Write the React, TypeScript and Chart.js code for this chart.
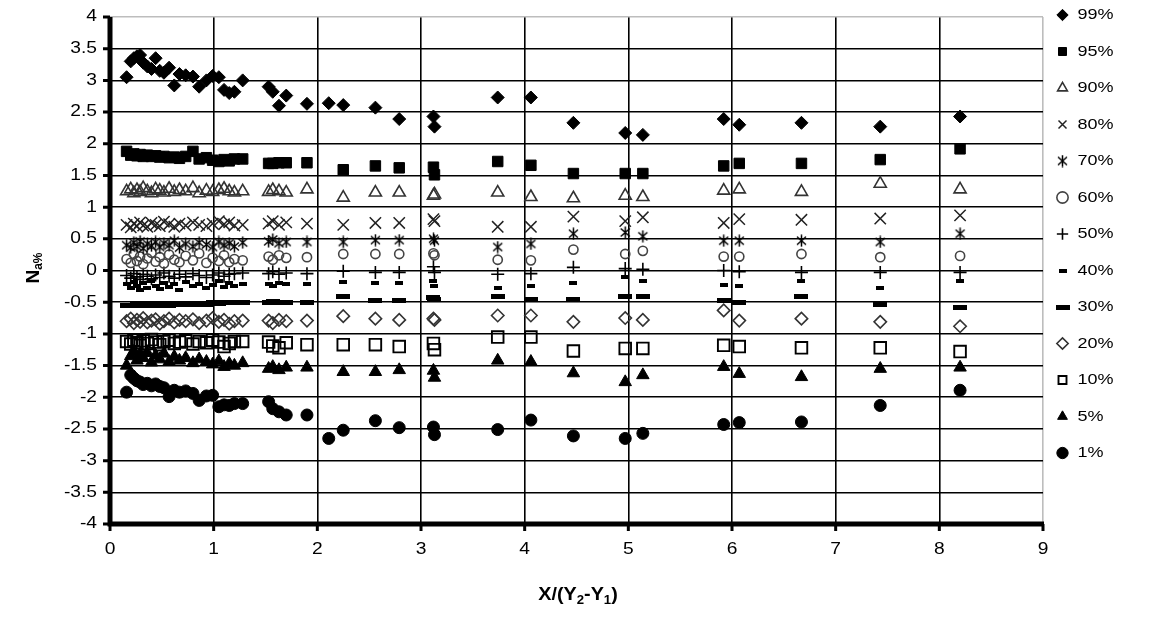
import React, { useEffect, useRef } from "react";
import { Chart, registerables } from "chart.js";

Chart.register(...registerables);

const W = 1160;
const H = 623;
const FONT = "'Liberation Sans', Arial, Helvetica, sans-serif";
const TEXT_STRETCH = 1.2;

// x = X/(Y2-Y1)
const X_RATIO = [
  0.16, 0.2, 0.23, 0.26, 0.29, 0.32, 0.36, 0.4, 0.44, 0.48, 0.52, 0.57, 0.62, 0.67, 0.73,
  0.8, 0.86, 0.93, 0.99, 1.05, 1.1, 1.15, 1.2, 1.28, 1.53, 1.57, 1.63, 1.7, 1.9,
  2.11, 2.25, 2.56, 2.79, 3.12, 3.13, 3.74, 4.06, 4.47, 4.97, 5.14, 5.92, 6.07, 6.67, 7.43, 8.2,
];

const SERIES_LABELS = ["99%", "95%", "90%", "80%", "70%", "60%", "50%", "40%", "30%", "20%", "10%", "5%", "1%"];

const N99 = [3.05, 3.3, 3.35, 3.38, 3.4, 3.28, 3.22, 3.18, 3.35, 3.15, 3.12, 3.2, 2.92, 3.1, 3.08, 3.06, 2.9, 3.0, 3.07, 3.05, 2.85, 2.8, 2.82, 3.0, 2.9, 2.82, 2.6, 2.76, 2.63,
  2.64, 2.61, 2.57, 2.39, 2.43, 2.27, 2.73, 2.73, 2.33, 2.17, 2.14, 2.39, 2.3, 2.33, 2.27, 2.43];
const N95 = [1.88, 1.82, 1.84, 1.81, 1.83, 1.8, 1.82, 1.8, 1.81, 1.79, 1.8, 1.78, 1.79, 1.77, 1.8, 1.88, 1.76, 1.78, 1.74, 1.72, 1.75, 1.73, 1.76, 1.76, 1.69, 1.69, 1.7, 1.7, 1.7,
  null, 1.59, 1.65, 1.62, 1.63, 1.51, 1.72, 1.66, 1.53, 1.53, 1.53, 1.65, 1.69, 1.69, 1.75, 1.92];
const N90 = [1.25, 1.28, 1.22, 1.27, 1.24, 1.3, 1.25, 1.22, 1.28, 1.26, 1.23, 1.29, 1.24, 1.27, 1.25, 1.3, 1.22, 1.26, 1.24, 1.27, 1.29, 1.25, 1.23, 1.25, 1.24, 1.27, 1.25, 1.23, 1.28,
  null, 1.15, 1.23, 1.23, 1.18, 1.2, 1.23, 1.16, 1.14, 1.18, 1.16, 1.26, 1.28, 1.24, 1.37, 1.28];
const N80 = [0.72, 0.68, 0.74, 0.7, 0.76, 0.71, 0.69, 0.75, 0.72, 0.7, 0.77, 0.73, 0.69, 0.74, 0.71, 0.76, 0.72, 0.7, 0.74, 0.78, 0.73, 0.76, 0.71, 0.72, 0.74, 0.78, 0.72, 0.76, 0.74,
  null, 0.72, 0.75, 0.75, 0.81, 0.78, 0.69, 0.69, 0.85, 0.78, 0.84, 0.75, 0.81, 0.8, 0.82, 0.87];
const N70 = [0.4, 0.36, 0.44, 0.38, 0.46, 0.35, 0.42, 0.39, 0.45, 0.37, 0.43, 0.4, 0.47, 0.36, 0.42, 0.38, 0.44, 0.41, 0.37, 0.45, 0.4, 0.43, 0.38, 0.44, 0.46, 0.49, 0.43, 0.45, 0.45,
  null, 0.45, 0.48, 0.48, 0.5, 0.47, 0.37, 0.42, 0.58, 0.6, 0.54, 0.47, 0.47, 0.47, 0.45, 0.58];
const N60 = [0.18, 0.12, 0.26, 0.15, 0.22, 0.1, 0.19, 0.28, 0.14, 0.21, 0.11, 0.25, 0.17, 0.13, 0.23, 0.16, 0.27, 0.12, 0.2, 0.15, 0.24, 0.13, 0.18, 0.16, 0.22, 0.17, 0.24, 0.2, 0.21,
  null, 0.26, 0.26, 0.26, 0.27, 0.24, 0.17, 0.16, 0.33, 0.26, 0.31, 0.22, 0.22, 0.26, 0.21, 0.23];
const N50 = [-0.08, -0.12, -0.05, -0.1, -0.14, -0.06, -0.09, -0.13, -0.07, -0.11, -0.04, -0.09, -0.12, -0.06, -0.1, -0.05, -0.08, -0.11, -0.07, -0.04, -0.09, -0.06, -0.05, -0.04, -0.05, -0.02, -0.06, -0.04, -0.05,
  null, -0.01, -0.03, -0.03, 0.06, -0.03, -0.06, -0.05, 0.05, 0.03, 0.02, 0.0, -0.02, -0.03, -0.03, -0.03];
const N40 = [-0.22, -0.28, -0.18, -0.25, -0.31, -0.2, -0.27, -0.16, -0.24, -0.29, -0.19, -0.26, -0.22, -0.3, -0.18, -0.25, -0.21, -0.28, -0.23, -0.17, -0.26, -0.2, -0.24, -0.22, -0.21, -0.24, -0.2, -0.22, -0.21,
  null, -0.18, -0.2, -0.2, -0.17, -0.24, -0.27, -0.24, -0.2, -0.1, -0.17, -0.23, -0.24, -0.16, -0.27, -0.17];
const N30 = [-0.56, -0.55, -0.56, -0.54, -0.55, -0.56, -0.54, -0.55, -0.55, -0.53, -0.54, -0.55, -0.53, -0.54, -0.52, -0.53, -0.52, -0.53, -0.51, -0.52, -0.51, -0.5, -0.51, -0.5, -0.51, -0.49, -0.5, -0.5, -0.5,
  null, -0.41, -0.47, -0.47, -0.42, -0.45, -0.41, -0.46, -0.46, -0.41, -0.41, -0.48, -0.51, -0.41, -0.54, -0.59];
const N20 = [-0.8, -0.76, -0.83, -0.78, -0.81, -0.75, -0.82, -0.79, -0.77, -0.84, -0.8, -0.76, -0.82, -0.78, -0.8, -0.77, -0.83, -0.79, -0.75, -0.81, -0.78, -0.84, -0.8, -0.79, -0.79, -0.83, -0.78, -0.8, -0.79,
  null, -0.72, -0.76, -0.78, -0.76, -0.78, -0.71, -0.71, -0.81, -0.75, -0.78, -0.63, -0.79, -0.76, -0.81, -0.88];
const N10 = [-1.12, -1.16, -1.1, -1.14, -1.18, -1.11, -1.15, -1.09, -1.13, -1.17, -1.12, -1.1, -1.15, -1.13, -1.11, -1.16, -1.12, -1.14, -1.1, -1.13, -1.2, -1.15, -1.12, -1.12, -1.13, -1.19, -1.22, -1.14, -1.17,
  null, -1.17, -1.17, -1.2, -1.15, -1.25, -1.05, -1.05, -1.27, -1.23, -1.23, -1.18, -1.2, -1.22, -1.22, -1.28];
const N5 = [-1.5, -1.35, -1.28, -1.42, -1.32, -1.38, -1.3, -1.45, -1.34, -1.4, -1.31, -1.44, -1.36, -1.42, -1.38, -1.46, -1.4, -1.44, -1.48, -1.43, -1.52, -1.47, -1.5, -1.46, -1.55, -1.52, -1.57, -1.53, -1.53,
  null, -1.6, -1.6, -1.57, -1.58, -1.69, -1.42, -1.44, -1.62, -1.76, -1.65, -1.52, -1.63, -1.68, -1.55, -1.53];
const N1 = [-1.92, -1.65, -1.7, -1.74, -1.76, -1.8, -1.78, -1.82, -1.79, -1.83, -1.85, -1.99, -1.89, -1.92, -1.9, -1.94, -2.05, -1.98, -1.97, -2.15, -2.12, -2.13, -2.1, -2.1, -2.07, -2.18, -2.23, -2.28, -2.28,
  -2.65, -2.52, -2.37, -2.48, -2.47, -2.59, -2.51, -2.36, -2.61, -2.65, -2.57, -2.43, -2.4, -2.39, -2.13, -1.89];

const SERIES_VALUES = [N99, N95, N90, N80, N70, N60, N50, N40, N30, N20, N10, N5, N1];

function makeAsterisk(): HTMLCanvasElement {
  const c = document.createElement("canvas");
  c.width = 13;
  c.height = 13;
  const g = c.getContext("2d")!;
  g.strokeStyle = "#000";
  g.lineWidth = 1.5;
  g.beginPath();
  g.moveTo(6.5, 0.5);
  g.lineTo(6.5, 12.5);
  g.moveTo(2, 2.5);
  g.lineTo(11, 10.5);
  g.moveTo(11, 2.5);
  g.lineTo(2, 10.5);
  g.stroke();
  return c;
}

function makeBar(w: number, h: number): HTMLCanvasElement {
  const c = document.createElement("canvas");
  c.width = w;
  c.height = h;
  const g = c.getContext("2d")!;
  g.fillStyle = "#000";
  g.fillRect(0, 0, w, h);
  return c;
}

function drawRuns(ctx: CanvasRenderingContext2D, runs: [string, number, number][], cx: number, cy: number, sx: number) {
  let total = 0;
  for (const [t, size] of runs) {
    ctx.font = `bold ${size}px ${FONT}`;
    total += ctx.measureText(t).width;
  }
  ctx.save();
  ctx.translate(cx, cy);
  ctx.scale(sx, 1);
  let x = -total / 2;
  ctx.textAlign = "left";
  ctx.textBaseline = "alphabetic";
  for (const [t, size, dy] of runs) {
    ctx.font = `bold ${size}px ${FONT}`;
    ctx.fillText(t, x, dy);
    x += ctx.measureText(t).width;
  }
  ctx.restore();
}

export default function App() {
  const ref = useRef<HTMLCanvasElement>(null);

  useEffect(() => {
    const canvas = ref.current!;
    const asterisk = makeAsterisk();
    const shortDash = makeBar(8, 4);
    const longDash = makeBar(14, 5);
    const clear = "rgba(0,0,0,0)";

    const styles: any[] = [
      { pointStyle: "rectRot", pointRadius: 6.5, backgroundColor: "#000", borderColor: "#000", borderWidth: 1 },
      { pointStyle: "rect", pointRadius: 7.4, backgroundColor: "#000", borderColor: "#000", borderWidth: 1 },
      { pointStyle: "triangle", pointRadius: 7, backgroundColor: clear, borderColor: "#333", borderWidth: 1.6 },
      { pointStyle: "crossRot", pointRadius: 8, backgroundColor: clear, borderColor: "#222", borderWidth: 1.5 },
      { pointStyle: asterisk, pointRadius: 6, backgroundColor: clear, borderColor: "#000", borderWidth: 1 },
      { pointStyle: "circle", pointRadius: 4.6, backgroundColor: clear, borderColor: "#444", borderWidth: 1.6 },
      { pointStyle: "cross", pointRadius: 6.5, backgroundColor: clear, borderColor: "#000", borderWidth: 1.6 },
      { pointStyle: shortDash, pointRadius: 4, backgroundColor: "#000", borderColor: "#000", borderWidth: 1 },
      { pointStyle: longDash, pointRadius: 7, backgroundColor: "#000", borderColor: "#000", borderWidth: 1 },
      { pointStyle: "rectRot", pointRadius: 6.2, backgroundColor: clear, borderColor: "#333", borderWidth: 1.6 },
      { pointStyle: "rect", pointRadius: 8.2, backgroundColor: clear, borderColor: "#000", borderWidth: 1.9 },
      { pointStyle: "triangle", pointRadius: 7.2, backgroundColor: "#000", borderColor: "#000", borderWidth: 1 },
      { pointStyle: "circle", pointRadius: 6, backgroundColor: "#000", borderColor: "#000", borderWidth: 1 },
    ];

    const datasets = SERIES_LABELS.map((label, s) => ({
      label,
      data: X_RATIO.map((x, i) => ({ x, y: SERIES_VALUES[s][i] })).filter((p) => p.y !== null),
      showLine: false,
      pointHoverRadius: styles[s].pointRadius,
      ...styles[s],
    }));

    const LEGEND_W = 117;
    const layoutPlugin = {
      id: "fixLayout",
      beforeLayout(chart: any) {
        const lg = chart.legend;
        if (lg && !lg.__patched) {
          const orig = lg.fit.bind(lg);
          lg.fit = function () {
            orig();
            this.width = LEGEND_W;
          };
          lg.__patched = true;
        }
      },
      afterLayout(chart: any) {
        const lg = chart.legend;
        if (lg) {
          lg.left = 1033.5;
          lg.right = lg.left + LEGEND_W;
          lg.top = -14;
          lg.bottom = H;
        }
      },
    };

    // the original's lettering is horizontally wide: stretch Chart.js text about its anchor point
    const stretchPlugin = {
      id: "stretchText",
      beforeDraw(chart: any) {
        const ctx = chart.ctx;
        const proto = Object.getPrototypeOf(ctx);
        ctx.fillText = function (t: string, x: number, y: number) {
          this.save();
          this.translate(x, y);
          this.scale(TEXT_STRETCH, 1);
          proto.fillText.call(this, t, 0, 0);
          this.restore();
        };
      },
      afterDraw(chart: any) {
        delete chart.ctx.fillText;
      },
    };

    // thick axis lines with outward tick stubs, as in the original spreadsheet chart
    const axisPlugin = {
      id: "thickAxes",
      beforeDatasetsDraw(chart: any) {
        const { ctx, chartArea, scales } = chart;
        const xs = scales.x;
        const ys = scales.y;
        ctx.save();
        ctx.strokeStyle = "#000";
        ctx.lineWidth = 3;
        ctx.beginPath();
        for (const t of ys.ticks) {
          const py = ys.getPixelForValue(t.value);
          ctx.moveTo(chartArea.left - 7, py);
          ctx.lineTo(chartArea.left, py);
        }
        for (const t of xs.ticks) {
          const px = xs.getPixelForValue(t.value);
          ctx.moveTo(px, chartArea.bottom);
          ctx.lineTo(px, chartArea.bottom + 7);
        }
        ctx.stroke();
        ctx.lineWidth = 5;
        ctx.beginPath();
        ctx.moveTo(chartArea.left, chartArea.top);
        ctx.lineTo(chartArea.left, chartArea.bottom + 2.5);
        ctx.moveTo(chartArea.left - 2.5, chartArea.bottom);
        ctx.lineTo(chartArea.right + 1, chartArea.bottom);
        ctx.stroke();
        ctx.restore();
      },
    };

    const titlePlugin = {
      id: "axisTitles",
      afterDraw(chart: any) {
        const ctx = chart.ctx as CanvasRenderingContext2D;
        ctx.save();
        ctx.fillStyle = "#000";
        drawRuns(ctx, [["X/(Y", 18, 0], ["2", 12, 4], ["-Y", 18, 0], ["1", 12, 4], [")", 18, 0]], 578, 600, 1.1);
        ctx.restore();
        ctx.save();
        ctx.fillStyle = "#000";
        ctx.translate(33, 268);
        ctx.rotate(-Math.PI / 2);
        drawRuns(ctx, [["N", 19, 0], ["a%", 12, 3]], 0, 6, 1);
        ctx.restore();
      },
    };

    Chart.defaults.font.family = FONT;

    const chart = new Chart(canvas, {
      type: "scatter",
      data: { datasets },
      options: {
        animation: false,
        responsive: false,
        devicePixelRatio: 1,
        events: [],
        layout: { padding: { top: 17, left: 0, right: 0, bottom: 0 } },
        plugins: {
          legend: {
            position: "right",
            align: "start",
            labels: {
              usePointStyle: true,
              boxWidth: 15,
              boxHeight: 8,
              padding: 21.5,
              color: "#000",
              font: { family: FONT, size: 15 },
            },
          },
          tooltip: { enabled: false },
        },
        scales: {
          x: {
            type: "linear",
            min: 0,
            max: 9,
            ticks: {
              stepSize: 1,
              color: "#000",
              font: { family: FONT, size: 16 },
              padding: 9,
              callback: (v: any) => String(v),
            },
            grid: {
              color: (c: any) => (c.tick && c.tick.value === 9 ? "#bdbdbd" : "#000"),
              lineWidth: 1.6,
              drawTicks: true,
              tickLength: 7,
              tickWidth: 0,
              tickColor: "rgba(0,0,0,0)",
            },
            border: { display: false },
            afterFit: (s: any) => {
              s.height = H - 524;
            },
          },
          y: {
            type: "linear",
            min: -4,
            max: 4,
            ticks: {
              stepSize: 0.5,
              color: "#000",
              font: { family: FONT, size: 16 },
              padding: 6,
              autoSkip: false,
              callback: (v: any) => String(v),
            },
            grid: {
              color: (c: any) => (c.tick && c.tick.value === 4 ? "#bdbdbd" : "#000"),
              lineWidth: 1.6,
              drawTicks: true,
              tickLength: 7,
              tickWidth: 0,
              tickColor: "rgba(0,0,0,0)",
            },
            border: { display: false },
            afterFit: (s: any) => {
              s.width = 110;
            },
          },
        },
      },
      plugins: [layoutPlugin, stretchPlugin, axisPlugin, titlePlugin],
    } as any);

    return () => chart.destroy();
  }, []);

  return (
    <div style={{ position: "fixed", left: 0, top: 0, width: W, height: H, background: "#fff" }}>
      <canvas ref={ref} width={W} height={H} style={{ display: "block", width: W, height: H }} />
    </div>
  );
}
